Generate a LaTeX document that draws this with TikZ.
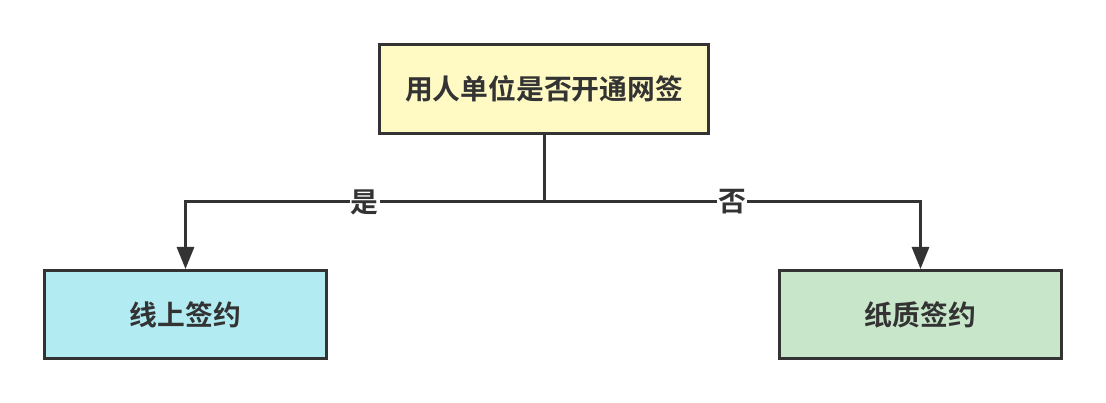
\documentclass[tikz,border=0pt]{standalone}
\usepackage{fontspec}
\newfontfamily\cjk{Noto Sans CJK SC}[BoldFont={Noto Sans CJK SC Bold}]
\usetikzlibrary{positioning,arrows.meta}

\definecolor{ink}{HTML}{333333}
\definecolor{askfill}{HTML}{FFF9C4}
\definecolor{onlinefill}{HTML}{B2EBF2}
\definecolor{paperfill}{HTML}{C8E6C9}

\begin{document}
\begin{tikzpicture}[x=1pt, y=-1pt, font=\cjk\bfseries\fontsize{27.8pt}{32pt}\selectfont, text=ink,
		b/.style={rectangle, draw=ink, line width=3pt, minimum height=88pt},
		arr/.style={draw=ink, line width=3pt, -{Triangle[length=22pt, width=17pt]}},
		lbl/.style={fill=white, inner sep=1pt}]
		\useasboundingbox (0,0) rectangle (1106,403);

		\node[b, fill=askfill, minimum width=329pt, minimum height=89pt] (Q) at (544,89) {用人单位是否开通网签};
		\node[b, fill=onlinefill, minimum width=282pt] (Online) at (185.5,314.5) {线上签约};
		\node[b, fill=paperfill, minimum width=282pt] (Paper) at (920.5,314.5) {纸质签约};
		\coordinate (split) at (544,202);

		\draw[draw=ink, line width=3pt] (Q) -- (split);
		\draw[arr] (split) -| node[lbl, pos=0.25] {是} (Online);
		\draw[arr] (split) -| node[lbl, pos=0.25] {否} (Paper);
	\end{tikzpicture}
\end{document}
